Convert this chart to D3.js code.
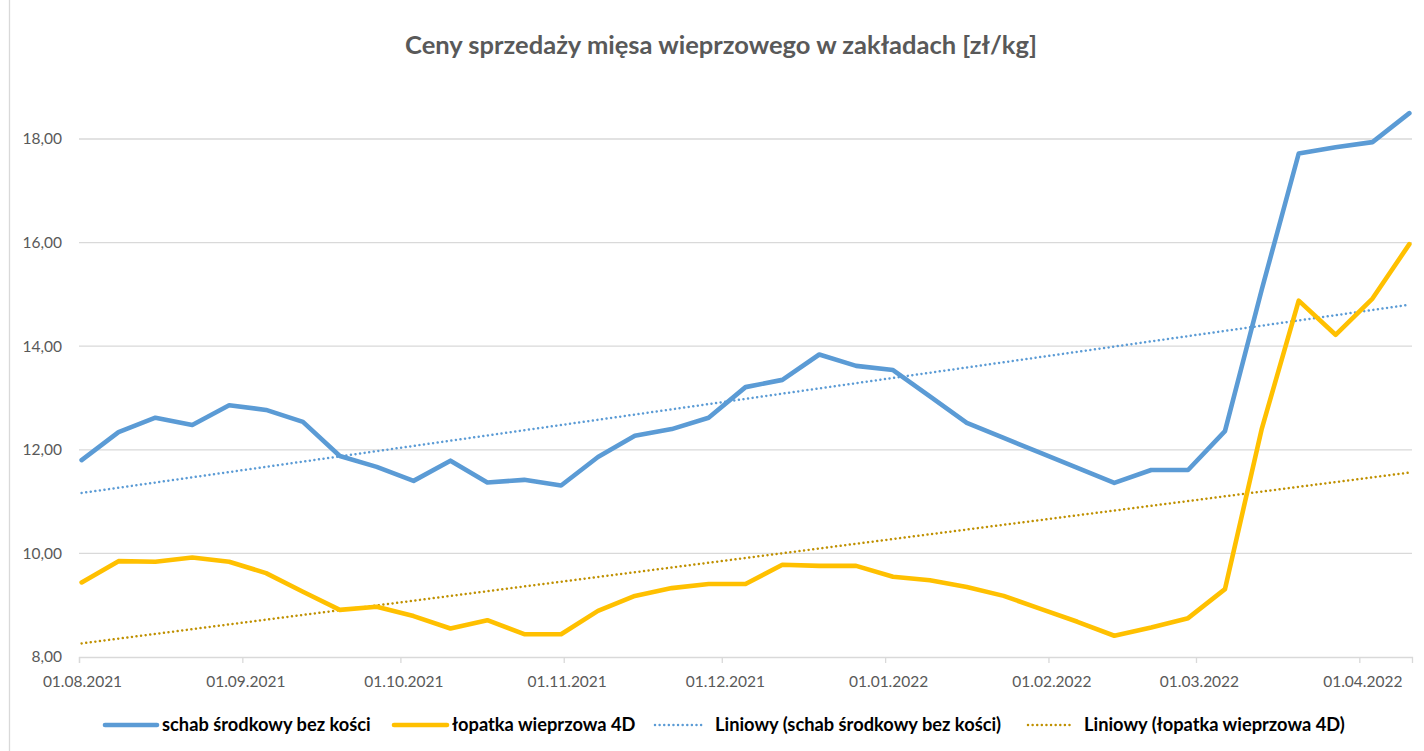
<!DOCTYPE html>
<html>
<head>
<meta charset="utf-8">
<script src="https://cdn.jsdelivr.net/npm/d3@7"></script>
<style>
  html, body { margin: 0; padding: 0; background: #fff; }
  svg { display: block; }
</style>
</head>
<body>
<svg id="chart" width="1424" height="751"></svg>
<script>
// ---------- data ----------
const titleText = "Ceny sprzedaży mięsa wieprzowego w zakładach [zł/kg]";
const dates = [
  "2021-08-01","2021-08-08","2021-08-15","2021-08-22","2021-08-29",
  "2021-09-05","2021-09-12","2021-09-19","2021-09-26",
  "2021-10-03","2021-10-10","2021-10-17","2021-10-24","2021-10-31",
  "2021-11-07","2021-11-14","2021-11-21","2021-11-28",
  "2021-12-05","2021-12-12","2021-12-19","2021-12-26",
  "2022-01-02","2022-01-09","2022-01-16","2022-01-23","2022-01-30",
  "2022-02-06","2022-02-13","2022-02-20","2022-02-27",
  "2022-03-06","2022-03-13","2022-03-20","2022-03-27",
  "2022-04-03","2022-04-10"
];
const schab = [
  11.80, 12.34, 12.62, 12.48, 12.86, 12.77, 12.54, 11.88, 11.67, 11.40,
  11.79, 11.37, 11.42, 11.31, 11.86, 12.27, 12.40, 12.62, 13.21, 13.35,
  13.84, 13.62, 13.54, 13.03, 12.52, 12.23, 11.94, 11.65, 11.36, 11.61,
  11.61, 12.36, 15.10, 17.72, 17.84, 17.94, 18.50
];
const lopatka = [
  9.44, 9.85, 9.84, 9.92, 9.84, 9.62, 9.26, 8.91, 8.97, 8.79,
  8.55, 8.71, 8.44, 8.44, 8.89, 9.18, 9.33, 9.41, 9.41, 9.78,
  9.76, 9.76, 9.55, 9.48, 9.35, 9.18, 8.93, 8.68, 8.41, 8.57,
  8.75, 9.31, 12.41, 14.88, 14.22, 14.92, 15.97
];
const seriesNames = [
  "schab środkowy bez kości",
  "łopatka wieprzowa 4D",
  "Liniowy (schab środkowy bez kości)",
  "Liniowy (łopatka wieprzowa 4D)"
];
const yTicks = [8, 10, 12, 14, 16, 18];
const xTickDates = ["2021-08-01","2021-09-01","2021-10-01","2021-11-01","2021-12-01",
                    "2022-01-01","2022-02-01","2022-03-01","2022-04-01"];
const axisStart = "2021-08-01";
const axisEnd = "2022-04-11";

// ---------- setup ----------
const svg = d3.select("#chart");
const FONT = "Lato, 'Open Sans', sans-serif";
const COL_BLUE = "#5B9BD5", COL_YEL = "#FFC000", COL_GOLD = "#BF9000";
const GRID = "#D9D9D9", TXT = "#595959";

svg.append("rect").attr("x", 0).attr("y", 0).attr("width", 1424).attr("height", 751).attr("fill", "#fff");
svg.append("rect").attr("x", 9.5).attr("y", -5).attr("width", 1500).attr("height", 800)
  .attr("fill", "none").attr("stroke", GRID).attr("stroke-width", 1.3);

const parse = d3.utcParse("%Y-%m-%d");
const x = d3.scaleUtc().domain([parse(axisStart), parse(axisEnd)]).range([79, 1412]);
const y = d3.scaleLinear().domain([8, 18]).range([657, 139]);
const mid = d => new Date(parse(d).getTime() + 12 * 3600 * 1000);

// gridlines
svg.append("g").selectAll("line").data(yTicks.filter(t => t !== 8)).join("line")
  .attr("x1", 79).attr("x2", 1412)
  .attr("y1", d => y(d)).attr("y2", d => y(d))
  .attr("stroke", GRID).attr("stroke-width", 1.3);

// y axis labels
const yAxis = d3.axisLeft(y).tickValues(yTicks).tickSize(0).tickPadding(17)
  .tickFormat(d => d3.format(".2f")(d).replace(".", ","));
const gy = svg.append("g").attr("transform", "translate(79,0)").call(yAxis);
gy.select(".domain").remove();
gy.selectAll("text").attr("font-family", FONT).attr("font-size", 15.5).attr("fill", TXT);

// x axis
const xAxis = d3.axisBottom(x).tickValues(xTickDates.map(parse)).tickSize(6).tickPadding(13)
  .tickFormat(d3.utcFormat("%d.%m.%Y"));
const gx = svg.append("g").attr("transform", "translate(0,657)").call(xAxis);
gx.select(".domain").attr("stroke", GRID).attr("stroke-width", 1.3);
gx.selectAll(".tick line").attr("stroke", GRID).attr("stroke-width", 1.3);
gx.selectAll("text").attr("font-family", FONT).attr("font-size", 15.5).attr("fill", TXT).attr("dx", 3);

// trend lines (least squares on date)
function trend(vals) {
  const xs = dates.map(d => mid(d).getTime());
  const reg = d3.mean(xs), rm = d3.mean(vals);
  let num = 0, den = 0;
  xs.forEach((xv, i) => { num += (xv - reg) * (vals[i] - rm); den += (xv - reg) ** 2; });
  const b = num / den, a = rm - b * reg;
  return [xs[0], xs[xs.length - 1]].map(t => [new Date(t), a + b * t]);
}
const tline = d3.line().x(d => x(d[0])).y(d => y(d[1]));
svg.append("path").datum(trend(schab)).attr("d", tline)
  .attr("fill", "none").attr("stroke", COL_BLUE).attr("stroke-width", 2.5)
  .attr("stroke-dasharray", "0.01 4.6").attr("stroke-linecap", "round");
svg.append("path").datum(trend(lopatka)).attr("d", tline)
  .attr("fill", "none").attr("stroke", COL_GOLD).attr("stroke-width", 2.5)
  .attr("stroke-dasharray", "0.01 4.6").attr("stroke-linecap", "round");

// main lines
const line = d3.line().x((d, i) => x(mid(dates[i]))).y(d => y(d));
svg.append("path").datum(schab).attr("d", line)
  .attr("fill", "none").attr("stroke", COL_BLUE).attr("stroke-width", 4.6)
  .attr("stroke-linejoin", "round").attr("stroke-linecap", "round");
svg.append("path").datum(lopatka).attr("d", line)
  .attr("fill", "none").attr("stroke", COL_YEL).attr("stroke-width", 4.6)
  .attr("stroke-linejoin", "round").attr("stroke-linecap", "round");

// title (fit to reference width)
const title = svg.append("text").text(titleText)
  .attr("x", 721).attr("y", 54).attr("text-anchor", "middle")
  .attr("font-family", FONT).attr("font-weight", 700).attr("font-size", 24).attr("fill", TXT);
{
  const w = title.node().getComputedTextLength();
  title.attr("font-size", 24 * 632 / w);
}

// legend
const legendItems = [
  { name: seriesNames[0], color: COL_BLUE, dotted: false, sx: 105, sw: 52, tx: 162 },
  { name: seriesNames[1], color: COL_YEL, dotted: false, sx: 394, sw: 53, tx: 452 },
  { name: seriesNames[2], color: COL_BLUE, dotted: true, sx: 655, sw: 50, tx: 715 },
  { name: seriesNames[3], color: COL_GOLD, dotted: true, sx: 1028, sw: 44, tx: 1084 }
];
const lg = svg.append("g");
const ly = 725;
lg.selectAll("line").data(legendItems).join("line")
  .attr("x1", d => d.sx).attr("x2", d => d.sx + d.sw).attr("y1", ly).attr("y2", ly)
  .attr("stroke", d => d.color)
  .attr("stroke-width", d => d.dotted ? 2.5 : 4.6)
  .attr("stroke-dasharray", d => d.dotted ? "0.01 4.6" : null)
  .attr("stroke-linecap", "round");
const lt = lg.selectAll("text").data(legendItems).join("text")
  .attr("x", d => d.tx).attr("y", ly).attr("dy", "0.35em")
  .attr("font-family", FONT).attr("font-weight", 700).attr("font-size", 16).attr("fill", "#000")
  .text(d => d.name);
{
  const w = lt.nodes()[0].getComputedTextLength();
  lt.attr("font-size", 16 * 209 / w);
}
</script>
</body>
</html>
